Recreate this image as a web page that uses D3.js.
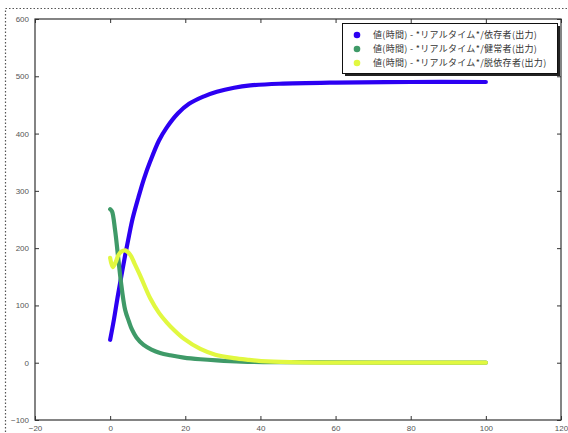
<!DOCTYPE html>
<html>
<head>
<meta charset="utf-8">
<script src="https://cdn.jsdelivr.net/npm/d3@7"></script>
<style>
  body { margin: 0; background: #fff; }
  svg { display: block; }
  .tick text { font-family: "Liberation Sans", "DejaVu Sans", sans-serif; font-size: 8px; fill: #555; }
</style>
</head>
<body>
<div class="chart"></div>
<script>
// series (time, value)
var blueT  = [0, 1, 2, 3, 4, 5, 6, 7.5, 9, 10.7, 13, 15, 18, 21, 25, 28.4, 33, 37.3, 45, 60, 80, 100];
var blueV  = [40, 75, 115, 152, 188, 221, 252, 288, 321, 352, 388, 410, 435, 452, 465, 473, 480, 484, 487, 489, 490, 490];
var greenT = [0, 0.5, 1.3, 2.2, 2.8, 4, 5, 5.8, 7, 8.9, 11, 13.3, 16, 19.6, 24, 28.4, 35, 45, 60, 80, 100];
var greenV = [268, 264, 232, 180, 145, 92, 72, 58, 44, 31, 23, 17, 13, 9, 6, 4, 2, 1, 0.5, 0.2, 0.1];
var yellowT = [0, 0.7, 1.5, 2.2, 3, 4, 5.3, 6.5, 8, 10.7, 13, 15.1, 17, 19.6, 24, 28, 32.9, 37, 41.8, 50.7, 60, 80, 100];
var yellowV = [183, 167, 176, 188, 194, 196, 189, 173, 152, 112, 87, 70, 57, 42, 24, 14, 8, 5, 2.3, 0.5, 0.2, 0, 0];

var labels = ["値(時間) - *リアルタイム*/依存者(出力)", "値(時間) - *リアルタイム*/健常者(出力)", "値(時間) - *リアルタイム*/脱依存者(出力)"];
var colors = ["#2c00f2", "#3f9a68", "#e1f840"];
var xTicks = [-20, 0, 20, 40, 60, 80, 100, 120];
var yTicks = [-100, 0, 100, 200, 300, 400, 500, 600];

var width = 568, height = 433;
var pLeft = 35, pRight = 561, pTop = 19, pBottom = 420;

var svg = d3.select(".chart").append("svg")
    .attr("width", width)
    .attr("height", height)

// dotted figure frame
svg.append("rect")
    .attr("x", 5.5).attr("y", 8.5)
    .attr("width", 700).attr("height", 700)
    .attr("fill", "none")
    .attr("stroke", "#555")
    .attr("stroke-width", 1.2)
    .attr("stroke-dasharray", "1.5,2")

var x = d3.scaleLinear().domain([-20, 120]).range([pLeft, pRight]);
var y = d3.scaleLinear().domain([-100, 600]).range([pBottom, pTop]);

var fmt = function(d){ return d < 0 ? "\u2212" + Math.abs(d) : d };

var series = [
  {t: blueT, v: blueV},
  {t: greenT, v: greenV},
  {t: yellowT, v: yellowV}
];

var line = d3.line()
    .x(function(d){ return x(d[0]) })
    .y(function(d){ return y(d[1]) })
    .curve(d3.curveCatmullRom.alpha(0.5))

series.forEach(function(s, i) {
  var pts = s.t.map(function(t, j){ return [t, s.v[j]] });
  svg.append("path")
      .attr("d", line(pts))
      .attr("fill", "none")
      .attr("stroke", colors[i])
      .attr("stroke-width", 4.2)
      .attr("stroke-linecap", "round")
      .attr("stroke-linejoin", "round")
});

// axes, ticks pointing inward like matplotlib classic
var gx = svg.append("g").attr("transform", "translate(0," + pBottom + ")")
    .call(d3.axisBottom(x).tickValues(xTicks).tickFormat(fmt).tickSizeInner(-4).tickSizeOuter(0).tickPadding(5));
var gxt = svg.append("g").attr("transform", "translate(0," + pTop + ")")
    .call(d3.axisTop(x).tickValues(xTicks).tickFormat("").tickSizeInner(-4).tickSizeOuter(0));
var gy = svg.append("g").attr("transform", "translate(" + pLeft + ",0)")
    .call(d3.axisLeft(y).tickValues(yTicks).tickFormat(fmt).tickSizeInner(-4).tickSizeOuter(0).tickPadding(6));
var gyr = svg.append("g").attr("transform", "translate(" + pRight + ",0)")
    .call(d3.axisRight(y).tickValues(yTicks).tickFormat("").tickSizeInner(-4).tickSizeOuter(0));
[gx, gxt, gy, gyr].forEach(function(g){
  g.select(".domain").remove();
  g.selectAll(".tick line").attr("stroke", "#333");
});

svg.append("rect")
    .attr("x", pLeft).attr("y", pTop)
    .attr("width", pRight - pLeft).attr("height", pBottom - pTop)
    .attr("fill", "none")
    .attr("stroke", "#333")
    .attr("stroke-width", 1.2)

// legend with shadow
var lx = 342, ly = 23, lw = 215, lh = 50;
svg.append("rect").attr("x", lx + 3).attr("y", ly + 3).attr("width", lw).attr("height", lh).attr("fill", "#222")
svg.append("rect").attr("x", lx + 0.5).attr("y", ly + 0.5).attr("width", lw).attr("height", lh)
    .attr("fill", "#fff").attr("stroke", "#111").attr("stroke-width", 1)

var items = svg.selectAll(".leg").data(labels).enter().append("g")
    .attr("class", "leg")
    .attr("transform", function(d, i){ return "translate(" + (lx + 15) + "," + (ly + 12 + i * 14) + ")" })
items.append("circle").attr("r", 3.3).attr("fill", function(d, i){ return colors[i] })
items.append("text")
    .attr("x", 16).attr("y", 3)
    .attr("font-family", "Noto Sans CJK JP")
    .attr("font-size", 9)
    .attr("letter-spacing", 0.3)
    .attr("fill", "#333")
    .text(function(d){ return d })
</script>
</body>
</html>
